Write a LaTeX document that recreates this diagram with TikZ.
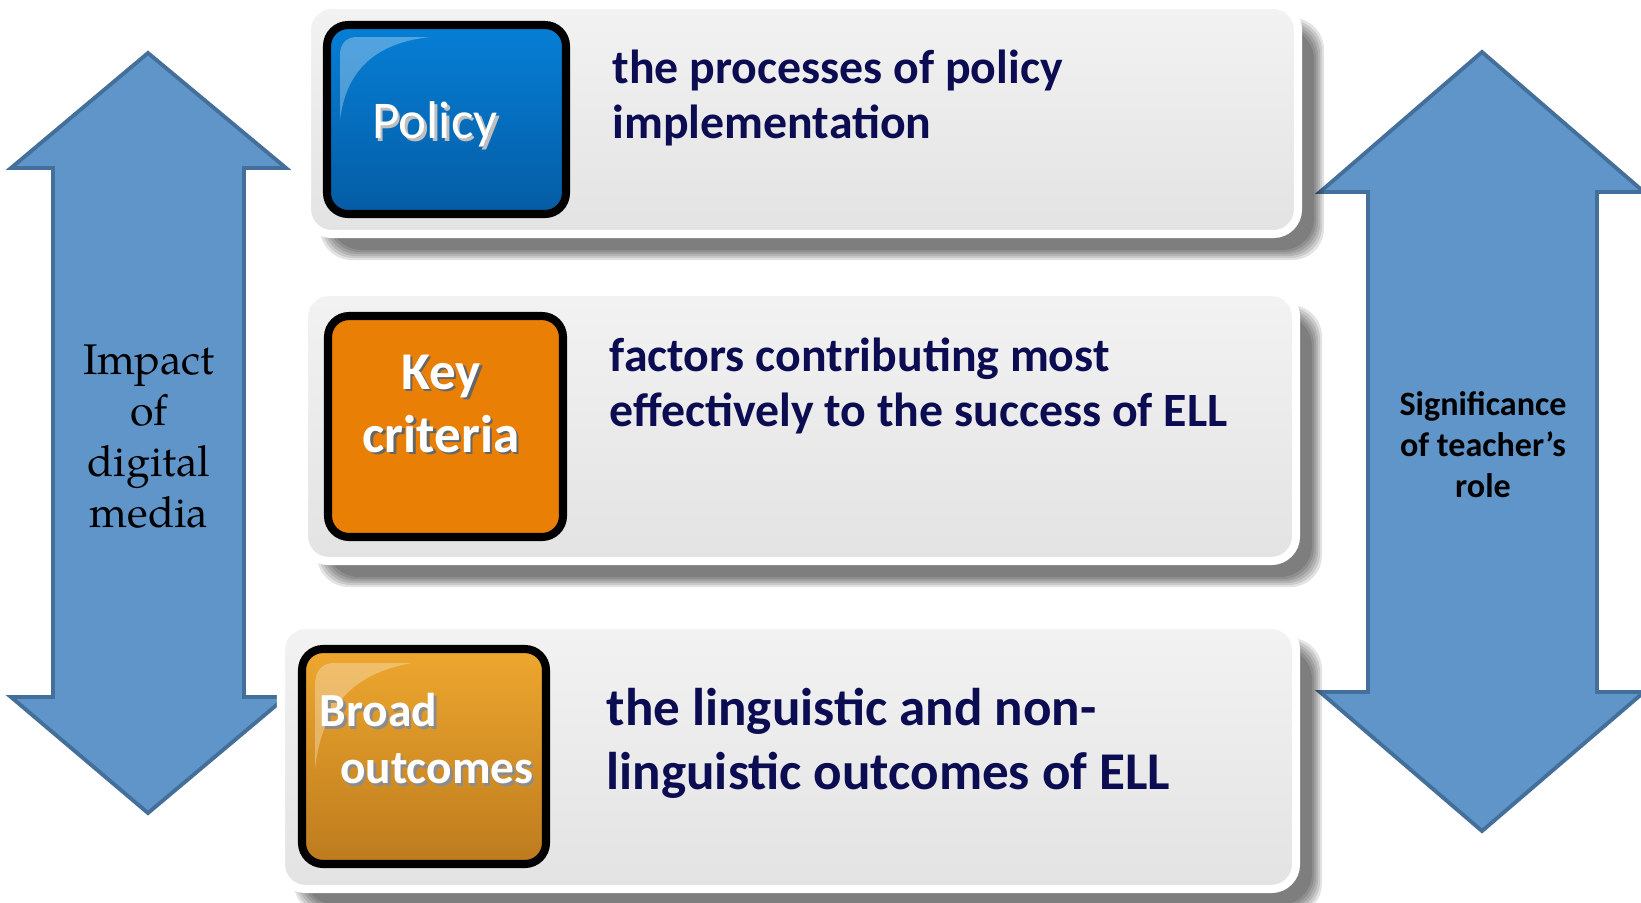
\documentclass[tikz,border=0pt]{standalone}
\usepackage{fontspec}
\setmainfont{Carlito}
\newfontfamily\pagella{TeX Gyre Pagella}
\usetikzlibrary{positioning}

\definecolor{arrowblue}{RGB}{95,149,200}
\definecolor{arrowedge}{RGB}{68,111,155}
\definecolor{navy}{RGB}{12,12,82}
\definecolor{policytop}{RGB}{6,127,214}
\definecolor{policybot}{RGB}{5,92,164}
\definecolor{keyorange}{RGB}{234,127,5}
\definecolor{broadtop}{RGB}{238,167,46}
\definecolor{broadbot}{RGB}{189,123,30}

% white button text with a small offset shadow behind it
\newcommand{\shadowed}[2][black!60]{\leavevmode\rlap{\hspace{0.7pt}\raisebox{-0.7pt}{\textcolor{#1}{#2}}}#2}

\tikzset{
  bigarrow/.style={fill=arrowblue, draw=arrowedge, line width=1.1pt, line join=miter},
  panel/.style={draw=white, line width=2.3pt, rounded corners=7pt, top color=black!5, bottom color=black!11},
  button/.style={draw=black, line width=2.3pt, rounded corners=6pt},
  gloss/.style={fill=white, fill opacity=0.3},
  desc/.style={anchor=west, inner sep=0pt, align=left, text=navy, font=\bfseries\fontsize{13.6}{15.6}\selectfont},
  btntext/.style={text=white, inner sep=0pt, align=center}
}

\begin{document}
\begin{tikzpicture}[x=0.1mm, y=-0.1mm]
  \useasboundingbox (0,0) rectangle (1641,902);

  % double-headed block arrows
  \draw[bigarrow] (148,53) -- (286,168) -- (244,168) -- (244,697) -- (286,697) -- (148,813)
    -- (11,697) -- (53,697) -- (53,168) -- (11,168) -- cycle;
  \draw[bigarrow] (1482,52) -- (1644,192) -- (1597,192) -- (1597,692) -- (1644,692) -- (1482,831)
    -- (1320,692) -- (1368,692) -- (1368,192) -- (1320,192) -- cycle;

  % cards: soft shadow first, then the card itself
  \foreach \x/\y/\X/\Y in {310/8/1302/238, 307/295/1300/565, 284/628/1300/893}{
    \foreach \d in {-4,-2,...,6}
      \fill[black, opacity=0.11, rounded corners=9pt]
        ({\x+16-(\d)},{\y+16-(\d)}) rectangle ({\X+16+(\d)},{\Y+16+(\d)});
    \draw[panel] (\x-3,\y-3) rectangle (\X-4,\Y-4);
  }

  \node[desc] (policytxt) at (612,98) {the processes of policy\\implementation};
  \node[desc] (criteriatxt) at (609,386) {factors contributing most\\effectively to the success of ELL};
  \node[desc, font=\bfseries\fontsize{15.1}{18.2}\selectfont] (outcometxt) at (606,743)
    {the linguistic and non-\\linguistic outcomes of ELL};

  % buttons
  \draw[button, top color=policytop, bottom color=policybot] (327,25) rectangle (566,214);
  \fill[gloss] (340,120) -- (340,55) .. controls (340,44) and (346,37) .. (357,37) -- (430,37)
    .. controls (385,42) and (347,62) .. (340,120) -- cycle;
  \node[btntext, font=\fontsize{15.1}{18}\selectfont] (policy) at (435,126)
    {\shadowed[white!75!black]{Policy}};

  \draw[button, fill=keyorange] (328,316) rectangle (563,537);
  \node[btntext, font=\bfseries\fontsize{15.1}{17.9}\selectfont] (keycrit) at (441,405)
    {\shadowed{Key}\\\shadowed{criteria}};

  \draw[button, top color=broadtop, bottom color=broadbot] (302,649) rectangle (546,864);
  \fill[gloss] (315,770) -- (315,685) .. controls (315,672) and (321,663) .. (334,663) -- (412,663)
    .. controls (360,672) and (322,700) .. (315,770) -- cycle;
  \node[btntext, anchor=west, align=left, font=\bfseries\fontsize{13.5}{16.2}\selectfont] (broad) at (319,740)
    {\shadowed[black!45]{Broad}\\\hspace*{5.8pt}\shadowed[black!45]{outcomes}};

  % arrow labels
  \node[font=\pagella\fontsize{12.2}{14.5}\selectfont, align=center, inner sep=0pt] (impact) at (149,437)
    {Impact\\of\\digital\\media};
  \node[font=\bfseries\fontsize{9.7}{11.7}\selectfont, align=center, inner sep=0pt] (teacher) at (1483,445)
    {Significance\\of teacher’s\\role};
\end{tikzpicture}
\end{document}
